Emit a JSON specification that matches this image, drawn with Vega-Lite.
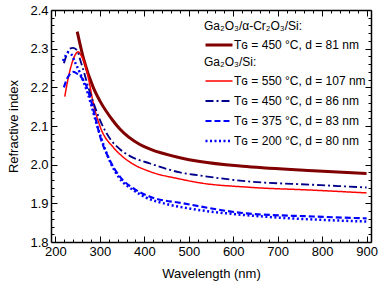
{
  "$schema": "https://vega.github.io/schema/vega-lite/v6.json",
  "width": 320,
  "height": 232,
  "autosize": {"type": "none"},
  "padding": {"left": 51, "top": 10, "right": 8, "bottom": 46},
  "config": {
    "font": "Liberation Sans",
    "view": {"stroke": null},
    "axis": {
      "grid": false,
      "domainColor": "black",
      "domainWidth": 1.5,
      "tickColor": "black",
      "tickWidth": 1,
      "labelColor": "black",
      "titleColor": "black",
      "labelFont": "Liberation Sans",
      "titleFont": "Liberation Sans",
      "labelFontSize": 13,
      "titleFontSize": 13,
      "titleFontWeight": "normal"
    },
    "legend": {
      "orient": "none",
      "symbolType": "stroke",
      "symbolSize": 729,
      "clipHeight": 12,
      "rowPadding": 8,
      "titlePadding": 6,
      "padding": 0,
      "labelFont": "Liberation Sans",
      "titleFont": "Liberation Sans",
      "labelFontSize": 12,
      "titleFontSize": 12,
      "titleFontWeight": "normal",
      "labelColor": "black",
      "titleColor": "black",
      "labelOffset": 0,
      "labelLimit": 300
    }
  },
  "datasets": {
    "cr": [
      {"sample": "Tɢ = 450 °C, d = 81 nm", "wavelength": 249, "n": 2.344},
      {"sample": "Tɢ = 450 °C, d = 81 nm", "wavelength": 263, "n": 2.275},
      {"sample": "Tɢ = 450 °C, d = 81 nm", "wavelength": 285, "n": 2.2},
      {"sample": "Tɢ = 450 °C, d = 81 nm", "wavelength": 300, "n": 2.165},
      {"sample": "Tɢ = 450 °C, d = 81 nm", "wavelength": 330, "n": 2.113},
      {"sample": "Tɢ = 450 °C, d = 81 nm", "wavelength": 345, "n": 2.092},
      {"sample": "Tɢ = 450 °C, d = 81 nm", "wavelength": 390, "n": 2.052},
      {"sample": "Tɢ = 450 °C, d = 81 nm", "wavelength": 413, "n": 2.04},
      {"sample": "Tɢ = 450 °C, d = 81 nm", "wavelength": 480, "n": 2.018},
      {"sample": "Tɢ = 450 °C, d = 81 nm", "wavelength": 525, "n": 2.008},
      {"sample": "Tɢ = 450 °C, d = 81 nm", "wavelength": 630, "n": 1.995},
      {"sample": "Tɢ = 450 °C, d = 81 nm", "wavelength": 780, "n": 1.984},
      {"sample": "Tɢ = 450 °C, d = 81 nm", "wavelength": 900, "n": 1.977}
    ],
    "si": [
      {"sample": "Tɢ = 550 °C, d = 107 nm", "wavelength": 221, "n": 2.176},
      {"sample": "Tɢ = 550 °C, d = 107 nm", "wavelength": 228, "n": 2.22},
      {"sample": "Tɢ = 550 °C, d = 107 nm", "wavelength": 237, "n": 2.262},
      {"sample": "Tɢ = 550 °C, d = 107 nm", "wavelength": 245, "n": 2.285},
      {"sample": "Tɢ = 550 °C, d = 107 nm", "wavelength": 251, "n": 2.292},
      {"sample": "Tɢ = 550 °C, d = 107 nm", "wavelength": 258, "n": 2.282},
      {"sample": "Tɢ = 550 °C, d = 107 nm", "wavelength": 266, "n": 2.262},
      {"sample": "Tɢ = 550 °C, d = 107 nm", "wavelength": 274, "n": 2.225},
      {"sample": "Tɢ = 550 °C, d = 107 nm", "wavelength": 285, "n": 2.16},
      {"sample": "Tɢ = 550 °C, d = 107 nm", "wavelength": 300, "n": 2.1},
      {"sample": "Tɢ = 550 °C, d = 107 nm", "wavelength": 330, "n": 2.045},
      {"sample": "Tɢ = 550 °C, d = 107 nm", "wavelength": 345, "n": 2.027},
      {"sample": "Tɢ = 550 °C, d = 107 nm", "wavelength": 374, "n": 2.002},
      {"sample": "Tɢ = 550 °C, d = 107 nm", "wavelength": 413, "n": 1.982},
      {"sample": "Tɢ = 550 °C, d = 107 nm", "wavelength": 480, "n": 1.963},
      {"sample": "Tɢ = 550 °C, d = 107 nm", "wavelength": 525, "n": 1.953},
      {"sample": "Tɢ = 550 °C, d = 107 nm", "wavelength": 630, "n": 1.942},
      {"sample": "Tɢ = 550 °C, d = 107 nm", "wavelength": 780, "n": 1.934},
      {"sample": "Tɢ = 550 °C, d = 107 nm", "wavelength": 900, "n": 1.927},
      {"sample": "Tɢ = 450 °C, d = 86 nm", "wavelength": 219, "n": 2.262},
      {"sample": "Tɢ = 450 °C, d = 86 nm", "wavelength": 224, "n": 2.28},
      {"sample": "Tɢ = 450 °C, d = 86 nm", "wavelength": 232, "n": 2.3},
      {"sample": "Tɢ = 450 °C, d = 86 nm", "wavelength": 240, "n": 2.302},
      {"sample": "Tɢ = 450 °C, d = 86 nm", "wavelength": 249, "n": 2.295},
      {"sample": "Tɢ = 450 °C, d = 86 nm", "wavelength": 256, "n": 2.27},
      {"sample": "Tɢ = 450 °C, d = 86 nm", "wavelength": 264, "n": 2.24},
      {"sample": "Tɢ = 450 °C, d = 86 nm", "wavelength": 274, "n": 2.2},
      {"sample": "Tɢ = 450 °C, d = 86 nm", "wavelength": 284, "n": 2.165},
      {"sample": "Tɢ = 450 °C, d = 86 nm", "wavelength": 300, "n": 2.116},
      {"sample": "Tɢ = 450 °C, d = 86 nm", "wavelength": 324, "n": 2.065},
      {"sample": "Tɢ = 450 °C, d = 86 nm", "wavelength": 345, "n": 2.04},
      {"sample": "Tɢ = 450 °C, d = 86 nm", "wavelength": 368, "n": 2.022},
      {"sample": "Tɢ = 450 °C, d = 86 nm", "wavelength": 413, "n": 2.003},
      {"sample": "Tɢ = 450 °C, d = 86 nm", "wavelength": 480, "n": 1.98},
      {"sample": "Tɢ = 450 °C, d = 86 nm", "wavelength": 525, "n": 1.972},
      {"sample": "Tɢ = 450 °C, d = 86 nm", "wavelength": 630, "n": 1.957},
      {"sample": "Tɢ = 450 °C, d = 86 nm", "wavelength": 780, "n": 1.948},
      {"sample": "Tɢ = 450 °C, d = 86 nm", "wavelength": 900, "n": 1.941},
      {"sample": "Tɢ = 375 °C, d = 83 nm", "wavelength": 219, "n": 2.2},
      {"sample": "Tɢ = 375 °C, d = 83 nm", "wavelength": 226, "n": 2.222},
      {"sample": "Tɢ = 375 °C, d = 83 nm", "wavelength": 234, "n": 2.236},
      {"sample": "Tɢ = 375 °C, d = 83 nm", "wavelength": 241, "n": 2.24},
      {"sample": "Tɢ = 375 °C, d = 83 nm", "wavelength": 249, "n": 2.235},
      {"sample": "Tɢ = 375 °C, d = 83 nm", "wavelength": 259, "n": 2.225},
      {"sample": "Tɢ = 375 °C, d = 83 nm", "wavelength": 269, "n": 2.205},
      {"sample": "Tɢ = 375 °C, d = 83 nm", "wavelength": 279, "n": 2.17},
      {"sample": "Tɢ = 375 °C, d = 83 nm", "wavelength": 289, "n": 2.125},
      {"sample": "Tɢ = 375 °C, d = 83 nm", "wavelength": 300, "n": 2.075},
      {"sample": "Tɢ = 375 °C, d = 83 nm", "wavelength": 322, "n": 2.012},
      {"sample": "Tɢ = 375 °C, d = 83 nm", "wavelength": 345, "n": 1.969},
      {"sample": "Tɢ = 375 °C, d = 83 nm", "wavelength": 375, "n": 1.939},
      {"sample": "Tɢ = 375 °C, d = 83 nm", "wavelength": 413, "n": 1.917},
      {"sample": "Tɢ = 375 °C, d = 83 nm", "wavelength": 488, "n": 1.9},
      {"sample": "Tɢ = 375 °C, d = 83 nm", "wavelength": 630, "n": 1.874},
      {"sample": "Tɢ = 375 °C, d = 83 nm", "wavelength": 780, "n": 1.866},
      {"sample": "Tɢ = 375 °C, d = 83 nm", "wavelength": 900, "n": 1.861},
      {"sample": "Tɢ = 200 °C, d = 80 nm", "wavelength": 217, "n": 2.268},
      {"sample": "Tɢ = 200 °C, d = 80 nm", "wavelength": 222, "n": 2.28},
      {"sample": "Tɢ = 200 °C, d = 80 nm", "wavelength": 229, "n": 2.29},
      {"sample": "Tɢ = 200 °C, d = 80 nm", "wavelength": 236, "n": 2.285},
      {"sample": "Tɢ = 200 °C, d = 80 nm", "wavelength": 244, "n": 2.265},
      {"sample": "Tɢ = 200 °C, d = 80 nm", "wavelength": 254, "n": 2.24},
      {"sample": "Tɢ = 200 °C, d = 80 nm", "wavelength": 264, "n": 2.212},
      {"sample": "Tɢ = 200 °C, d = 80 nm", "wavelength": 274, "n": 2.18},
      {"sample": "Tɢ = 200 °C, d = 80 nm", "wavelength": 284, "n": 2.14},
      {"sample": "Tɢ = 200 °C, d = 80 nm", "wavelength": 294, "n": 2.1},
      {"sample": "Tɢ = 200 °C, d = 80 nm", "wavelength": 304, "n": 2.065},
      {"sample": "Tɢ = 200 °C, d = 80 nm", "wavelength": 324, "n": 2.005},
      {"sample": "Tɢ = 200 °C, d = 80 nm", "wavelength": 344, "n": 1.965},
      {"sample": "Tɢ = 200 °C, d = 80 nm", "wavelength": 374, "n": 1.935},
      {"sample": "Tɢ = 200 °C, d = 80 nm", "wavelength": 404, "n": 1.915},
      {"sample": "Tɢ = 200 °C, d = 80 nm", "wavelength": 454, "n": 1.897},
      {"sample": "Tɢ = 200 °C, d = 80 nm", "wavelength": 504, "n": 1.886},
      {"sample": "Tɢ = 200 °C, d = 80 nm", "wavelength": 604, "n": 1.872},
      {"sample": "Tɢ = 200 °C, d = 80 nm", "wavelength": 704, "n": 1.863},
      {"sample": "Tɢ = 200 °C, d = 80 nm", "wavelength": 804, "n": 1.857},
      {"sample": "Tɢ = 200 °C, d = 80 nm", "wavelength": 900, "n": 1.853}
    ]
  },
  "layer": [
    {
      "data": {"name": "cr"},
      "mark": {"type": "line", "interpolate": "monotone", "strokeWidth": 3},
      "encoding": {
        "x": {
          "field": "wavelength", "type": "quantitative",
          "scale": {"domain": [190, 910], "nice": false, "zero": false},
          "axis": {
            "orient": "bottom",
            "title": "Wavelength (nm)",
            "values": [200,220,240,260,280,300,320,340,360,380,400,420,440,460,480,500,520,540,560,580,600,620,640,660,680,700,720,740,760,780,800,820,840,860,880,900],
            "labelExpr": "datum.value % 100 === 0 ? datum.label : ''",
            "format": "d",
            "tickSize": {"condition": {"test": "datum.value % 100 === 0", "value": -6}, "value": -3},
            "labelPadding": 9,
            "titlePadding": 6,
            "labelFlush": false,
            "labelOverlap": false
          }
        },
        "y": {
          "field": "n", "type": "quantitative",
          "scale": {"domain": [1.8, 2.4], "nice": false, "zero": false},
          "axis": {
            "orient": "left",
            "title": "Refractive index",
            "values": [1.8,1.82,1.84,1.86,1.88,1.9,1.92,1.94,1.96,1.98,2,2.02,2.04,2.06,2.08,2.1,2.12,2.14,2.16,2.18,2.2,2.22,2.24,2.26,2.28,2.3,2.32,2.34,2.36,2.38,2.4],
            "labelExpr": "round(datum.value * 100) % 10 === 0 ? format(datum.value, '.1f') : ''",
            "tickSize": {"condition": {"test": "round(datum.value * 100) % 10 === 0", "value": -6}, "value": -3},
            "labelPadding": 9,
            "titlePadding": 9,
            "labelFlush": false,
            "labelOverlap": false
          }
        },
        "color": {
          "field": "sample", "type": "nominal",
          "scale": {"domain": ["Tɢ = 450 °C, d = 81 nm"], "range": ["#800000"]},
          "legend": {"title": "Ga₂O₃/α-Cr₂O₃/Si:", "legendX": 153, "legendY": 11, "symbolStrokeWidth": 3}
        }
      }
    },
    {
      "data": {"name": "si"},
      "mark": {"type": "line", "interpolate": "monotone"},
      "encoding": {
        "x": {
          "field": "wavelength", "type": "quantitative",
          "axis": {
            "orient": "top",
            "title": null,
            "labels": false,
            "values": [200,220,240,260,280,300,320,340,360,380,400,420,440,460,480,500,520,540,560,580,600,620,640,660,680,700,720,740,760,780,800,820,840,860,880,900],
            "tickSize": {"condition": {"test": "datum.value % 100 === 0", "value": -6}, "value": -3}
          }
        },
        "y": {
          "field": "n", "type": "quantitative",
          "axis": {
            "orient": "right",
            "title": null,
            "labels": false,
            "values": [1.8,1.82,1.84,1.86,1.88,1.9,1.92,1.94,1.96,1.98,2,2.02,2.04,2.06,2.08,2.1,2.12,2.14,2.16,2.18,2.2,2.22,2.24,2.26,2.28,2.3,2.32,2.34,2.36,2.38,2.4],
            "tickSize": {"condition": {"test": "round(datum.value * 100) % 10 === 0", "value": -6}, "value": -3}
          }
        },
        "color": {
          "field": "sample", "type": "nominal",
          "scale": {
            "domain": ["Tɢ = 550 °C, d = 107 nm", "Tɢ = 450 °C, d = 86 nm", "Tɢ = 375 °C, d = 83 nm", "Tɢ = 200 °C, d = 80 nm"],
            "range": ["#ff0000", "#00008b", "#0000ff", "#0000ff"]
          },
          "legend": {"title": "Ga₂O₃/Si:", "legendX": 153, "legendY": 47}
        },
        "strokeDash": {
          "field": "sample", "type": "nominal",
          "scale": {
            "domain": ["Tɢ = 550 °C, d = 107 nm", "Tɢ = 450 °C, d = 86 nm", "Tɢ = 375 °C, d = 83 nm", "Tɢ = 200 °C, d = 80 nm"],
            "range": [[1, 0], [8, 3, 2, 3], [6, 3], [2, 2.5]]
          },
          "legend": {"title": "Ga₂O₃/Si:", "legendX": 153, "legendY": 47}
        },
        "strokeWidth": {
          "field": "sample", "type": "ordinal",
          "scale": {
            "domain": ["Tɢ = 550 °C, d = 107 nm", "Tɢ = 450 °C, d = 86 nm", "Tɢ = 375 °C, d = 83 nm", "Tɢ = 200 °C, d = 80 nm"],
            "range": [1.5, 2.5, 3, 3]
          },
          "legend": {"title": "Ga₂O₃/Si:", "legendX": 153, "legendY": 47}
        }
      }
    }
  ],
  "resolve": {
    "scale": {"color": "independent", "strokeDash": "independent", "strokeWidth": "independent"},
    "axis": {"x": "independent", "y": "independent"},
    "legend": {"color": "independent"}
  }
}
